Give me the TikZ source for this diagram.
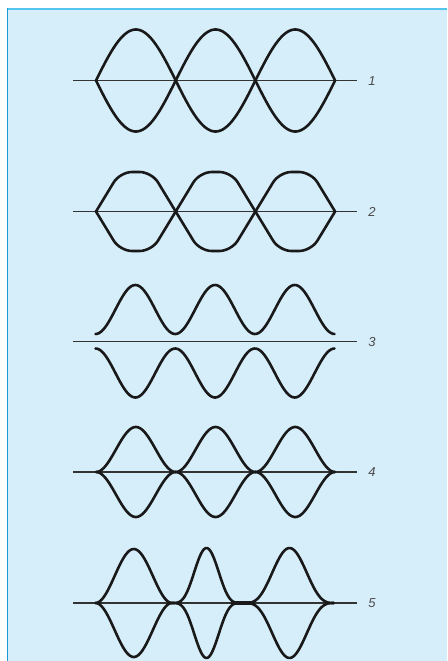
\documentclass[tikz,border=0pt]{standalone}
\usepackage{fontspec}
\setsansfont{Liberation Sans}
\definecolor{bgblue}{HTML}{D6EEFA}
\definecolor{topline}{HTML}{55C5EF}
\definecolor{leftline}{HTML}{1B9AD6}
\definecolor{axisgray}{HTML}{333333}
\definecolor{labgray}{HTML}{4A4A4A}
\tikzset{
  wave/.style={line width=2.6pt, draw=black!90, line join=round, line cap=round},
  axisline/.style={line width=1.2pt, draw=axisgray},
  lab/.style={font=\sffamily\itshape\fontsize{13}{13}\selectfont, text=labgray, inner sep=0pt}
}
\begin{document}
\begin{tikzpicture}[x=1pt,y=-1pt]
\useasboundingbox (0,0) rectangle (447,661);
\fill[bgblue] (7,8) rectangle (447,661);
\fill[topline] (7,8) rectangle (447,10);
\fill[leftline] (7,8) rectangle (8,661);

% axis lines (drawn first, under the waves)
\coordinate (a1l) at (73,80.5); \coordinate (a1r) at (357,80.5);
\coordinate (a2l) at (73,211.5); \coordinate (a2r) at (357,211.5);
\coordinate (a3l) at (73,341.5); \coordinate (a3r) at (357,341.5);
\coordinate (a4l) at (73,472); \coordinate (a4r) at (357,472);
\coordinate (a5l) at (73,603); \coordinate (a5r) at (357,603);
\draw[axisline] (a1l) -- (a1r);
\draw[axisline] (a2l) -- (a2r);
\draw[axisline] (a3l) -- (a3r);
\draw[axisline] (a4l) -- (a4r);
\draw[axisline] (a5l) -- (a5r);

% ---------- 1 ----------
\foreach \a in {96,175.7,255.4}{
  \draw[wave] plot[domain=0:1,samples=50] ({\a+79.7*\x},{80.5-51*sin(180*\x)});
  \draw[wave] plot[domain=0:1,samples=50] ({\a+79.7*\x},{80.5+51*sin(180*\x)});
}
\node[lab] (l1) at (372,81) {1};

% ---------- 2 ----------
\foreach \a in {96,175.7,255.4}{
  \draw[wave, rounded corners=12pt] (\a,211.5) -- ({\a+24},172) -- ({\a+55.7},172) -- ({\a+79.7},211.5);
  \draw[wave, rounded corners=12pt] (\a,211.5) -- ({\a+24},251) -- ({\a+55.7},251) -- ({\a+79.7},211.5);
}
\node[lab] (l2) at (372,212) {2};

% ---------- 3 ----------
\draw[wave] plot[domain=0:3,samples=150] ({95.5+79.7*\x},{334-49*(1-cos(360*\x))/2});
\draw[wave] plot[domain=0:3,samples=150] ({95.5+79.7*\x},{348.5+49*(1-cos(360*\x))/2});
\node[lab] (l3) at (372,342) {3};

% ---------- 4 ----------
\foreach \a in {96,175.7,255.4}{
  \draw[wave] plot[domain=0:1,samples=60] ({\a+79.7*\x},{472-45*pow(abs(sin(180*\x)),2)});
  \draw[wave] plot[domain=0:1,samples=60] ({\a+79.7*\x},{472+45*pow(abs(sin(180*\x)),2)});
}
\node[lab] (l4) at (372,472.5) {4};

% ---------- 5 ----------
\draw[wave] plot[domain=0:1,samples=60] ({95.5+76.5*\x},{603-54*pow(abs(sin(180*\x)),2)});
\draw[wave] plot[domain=0:1,samples=60] ({95.5+76.5*\x},{603+54*pow(abs(sin(180*\x)),2)});
\draw[wave] plot[domain=0:1,samples=60] ({172+69*\x},{603-55*pow(abs(sin(180*\x)),3.5)});
\draw[wave] plot[domain=0:1,samples=60] ({172+69*\x},{603+55*pow(abs(sin(180*\x)),3.5)});
\draw[wave] plot[domain=0:1,samples=60] ({245+89*\x},{603-55*pow(abs(sin(180*\x)),3)});
\draw[wave] plot[domain=0:1,samples=60] ({245+89*\x},{603+55*pow(abs(sin(180*\x)),3)});
\coordinate (t5a) at (233,603); \coordinate (t5b) at (253,603);
\draw[wave, line width=4.6pt] (t5a) -- (t5b);
\node[lab] (l5) at (372,603.5) {5};
\end{tikzpicture}
\end{document}
